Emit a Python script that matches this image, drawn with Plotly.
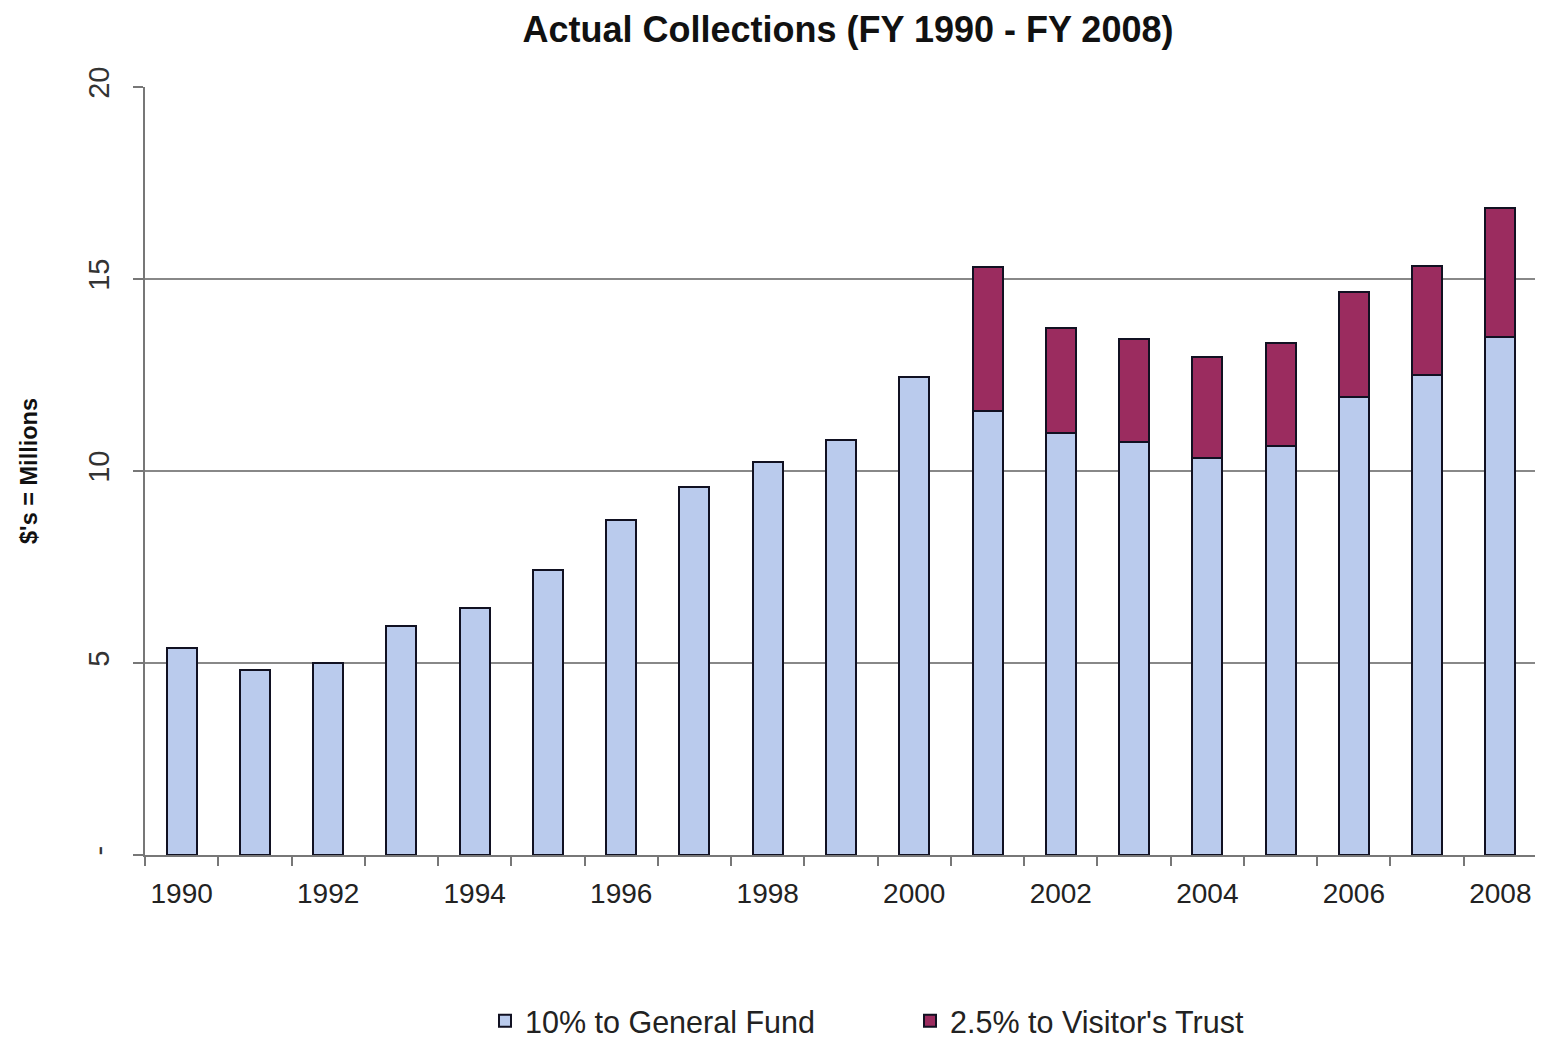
import plotly.graph_objects as go

years = list(range(1990, 2009))
general_fund = [5.39, 4.82, 5.0, 5.96, 6.43, 7.42, 8.72, 9.58, 10.23, 10.81,
                12.45, 11.56, 10.99, 10.76, 10.34, 10.65, 11.93, 12.5, 13.49]
visitors_trust = [0, 0, 0, 0, 0, 0, 0, 0, 0, 0,
                  0, 3.75, 2.73, 2.68, 2.63, 2.68, 2.73, 2.84, 3.36]
ytick_vals = [0, 5, 10, 15, 20]
ytick_text = ["-", "5", "10", "15", "20"]
xtick_vals = [1990, 1992, 1994, 1996, 1998, 2000, 2002, 2004, 2006, 2008]

fig = go.Figure()
fig.add_trace(go.Bar(
    x=years, y=general_fund, name="10% to General Fund",
    marker=dict(color="#bacbed", line=dict(color="#111122", width=2)),
    width=0.41,
))
vt_y = [v if v > 0 else None for v in visitors_trust]
fig.add_trace(go.Bar(
    x=years, y=vt_y, name="2.5% to Visitor's Trust",
    marker=dict(color="#9b2c5f", line=dict(color="#111122", width=2)),
    width=0.41,
))

W, H = 1535, 1030
L, T, B = 137, 79, 183
fig.update_layout(
    barmode="stack",
    width=W, height=H,
    paper_bgcolor="white", plot_bgcolor="white",
    margin=dict(l=L, r=6, t=T, b=B),
    font=dict(family="Liberation Sans, Arial", color="#222222"),
    title=dict(text="<b>Actual Collections (FY 1990 - FY 2008)</b>",
               x=840 / W, xanchor="center", xref="container",
               y=1 - 21 / H, yanchor="middle", yref="container",
               font=dict(size=36, color="#111111")),
    showlegend=True,
    legend=dict(orientation="h", x=(477 - L) / 1392, xanchor="left",
                y=1 - 1013 / H, yanchor="middle", yref="container",
                font=dict(size=30.5, color="#222222"), itemwidth=30,
                traceorder="normal", entrywidth=380),
    xaxis=dict(range=[1989.5, 2008.5], tickmode="array", tickvals=xtick_vals,
               ticktext=[str(v) for v in xtick_vals], ticks="",
               showline=True, linecolor="#777777", linewidth=2,
               showgrid=False, zeroline=False, ticklabelstandoff=12,
               tickfont=dict(size=28, color="#222222"),
               minor=dict(ticks="outside", tick0=1989.5, dtick=1, ticklen=9,
                          tickwidth=2, tickcolor="#777777", showgrid=False)),
    yaxis=dict(range=[0, 20], tickmode="array", tickvals=ytick_vals, ticktext=ytick_text,
               tickangle=-90, ticks="outside", ticklen=10, tickwidth=2, tickcolor="#777777",
               showline=True, linecolor="#777777", linewidth=2,
               showgrid=True, gridcolor="#888888", gridwidth=1.5, zeroline=False,
               tickfont=dict(size=29, color="#333333"), ticklabelstandoff=12,
               title=dict(text="<b>$'s = Millions</b>", font=dict(size=23.5, color="#111111"),
                          standoff=39)),
)

fig.write_html("out.html")
